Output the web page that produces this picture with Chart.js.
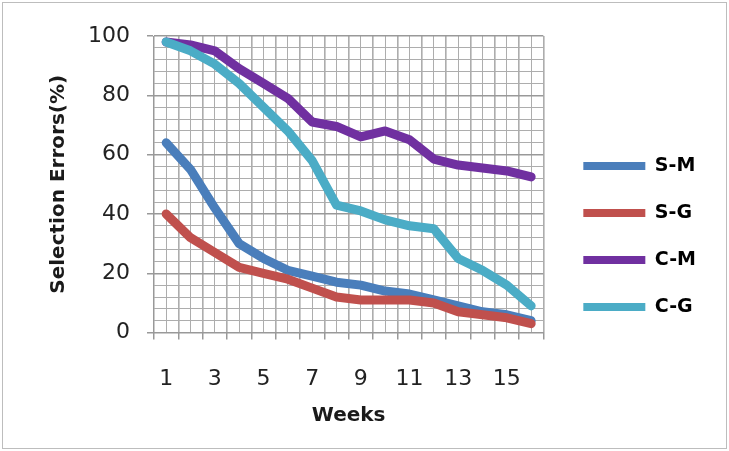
<!DOCTYPE html>
<html>
<head>
<meta charset="utf-8">
<script src="https://cdn.jsdelivr.net/npm/chart.js@4"></script>
<style>
  html, body { margin: 0; padding: 0; background: #fff; }
  #frame {
    position: absolute; left: 2px; top: 2px;
    width: 723px; height: 445px;
    border: 1px solid #bdbdbd;
  }
  canvas { display: block; }
</style>
</head>
<body>
<div id="frame"><canvas id="errChart" width="723" height="445"></canvas></div>
<script>
// weeks on the x axis
const weeks = ["1","2","3","4","5","6","7","8","9","10","11","12","13","14","15","16"];

// selection errors (%)
const smValues = [64, 55, 42, 30, 25, 21, 19, 17, 16, 14, 13, 11, 9, 7, 6, 4];
const sgValues = [40, 32, 27, 22, 20, 18, 15, 12, 11, 11, 11, 10, 7, 6, 5, 3];
const cmValues = [98, 97, 95, 89, 84, 79, 71, 69.5, 66, 68, 65, 58.5, 56.5, 55.5, 54.5, 52.5];
const cgValues = [98, 95, 90.5, 84, 76, 68, 58, 43, 41, 38, 36, 35, 25, 21, 16, 9];

const seriesNames = ["S-M", "S-G", "C-M", "C-G"];
const seriesColors = ["#4a7ebb", "#c0504d", "#7030a0", "#4bacc6"];

// y grid: labelled every 20, fine lines every 4
const yMajorStep = 20;
const yMinorStep = 4;

// half-week slots, only used for the fine vertical grid
const halfWeeks = weeks.flatMap(w => [w + "a", w + "b"]);

const allValues = [smValues, sgValues, cmValues, cgValues];

let datasets = seriesNames.map(function(name, i){
    return {
        label: name,
        data: allValues[i],
        borderColor: seriesColors[i],
        backgroundColor: seriesColors[i],
        borderWidth: 9,
        pointRadius: 0,
        tension: 0,
        borderJoinStyle: "round",
        borderCapStyle: "round",
        order: seriesNames.length - i   // later series drawn on top
    };
});

const isMajor = v => v % yMajorStep === 0;

new Chart("errChart", {
    type: "line",
    data: {
        labels: weeks,
        datasets: datasets
    },
    options: {
        responsive: false,
        animation: false,
        layout: { padding: { left: 44, top: 33, right: 20, bottom: 16 } },
        plugins: {
            tooltip: { enabled: false },
            legend: {
                position: "right",
                maxWidth: 300,
                title: { display: true, text: "", padding: 2, font: { size: 1 } },
                labels: {
                    boxWidth: 62,
                    boxHeight: 8,
                    padding: 28,
                    color: "#000",
                    font: { family: "DejaVu Sans", size: 19, weight: "bold" },
                    generateLabels: function(chart){
                        return chart.data.datasets.map((ds, i) => ({
                            text: ds.label,
                            fillStyle: ds.borderColor,
                            strokeStyle: ds.borderColor,
                            fontColor: "#000",
                            lineWidth: 0,
                            datasetIndex: i,
                            hidden: false
                        }));
                    }
                }
            }
        },
        scales: {
            x: {
                type: "category",
                offset: true,
                grid: { offset: true, color: "#999", lineWidth: 1.5, tickLength: 7 },
                border: { color: "#999" },
                ticks: {
                    autoSkip: false,
                    maxRotation: 0,
                    padding: 26,
                    color: "#222",
                    font: { family: "DejaVu Sans", size: 22 },
                    callback: function(val, idx){ return idx % 2 === 0 ? weeks[idx] : ""; }
                },
                title: {
                    display: true,
                    text: "Weeks",
                    color: "#1a1a1a",
                    padding: { top: -14 },
                    font: { family: "DejaVu Sans", size: 20, weight: "bold" }
                }
            },
            xMinor: {
                type: "category",
                labels: halfWeeks,
                position: "bottom",
                offset: true,
                grid: { offset: true, color: "#adadad", drawTicks: false },
                border: { display: false },
                ticks: { display: false, autoSkip: false }
            },
            y: {
                min: 0,
                max: 100,
                grid: {
                    tickLength: 7,
                    color: c => isMajor(c.tick.value) ? "#999" : "#adadad",
                    lineWidth: c => isMajor(c.tick.value) ? 1.5 : 1,
                    tickColor: c => isMajor(c.tick.value) ? "#999" : "rgba(0,0,0,0)"
                },
                border: { color: "#999" },
                ticks: {
                    stepSize: yMinorStep,
                    autoSkip: false,
                    padding: 17,
                    color: "#222",
                    font: { family: "DejaVu Sans", size: 22 },
                    callback: v => isMajor(v) ? v : ""
                },
                title: {
                    display: true,
                    text: "Selection Errors(%)",
                    color: "#1a1a1a",
                    padding: { top: 0, bottom: 0 },
                    font: { family: "DejaVu Sans", size: 20, weight: "bold" }
                }
            },
            // empty strip between the plot and the legend
            gap: {
                position: "right",
                grid: { display: false },
                border: { display: false },
                ticks: { display: false },
                afterFit: function(scale){ scale.width = 12; }
            }
        }
    }
});
</script>
</body>
</html>
